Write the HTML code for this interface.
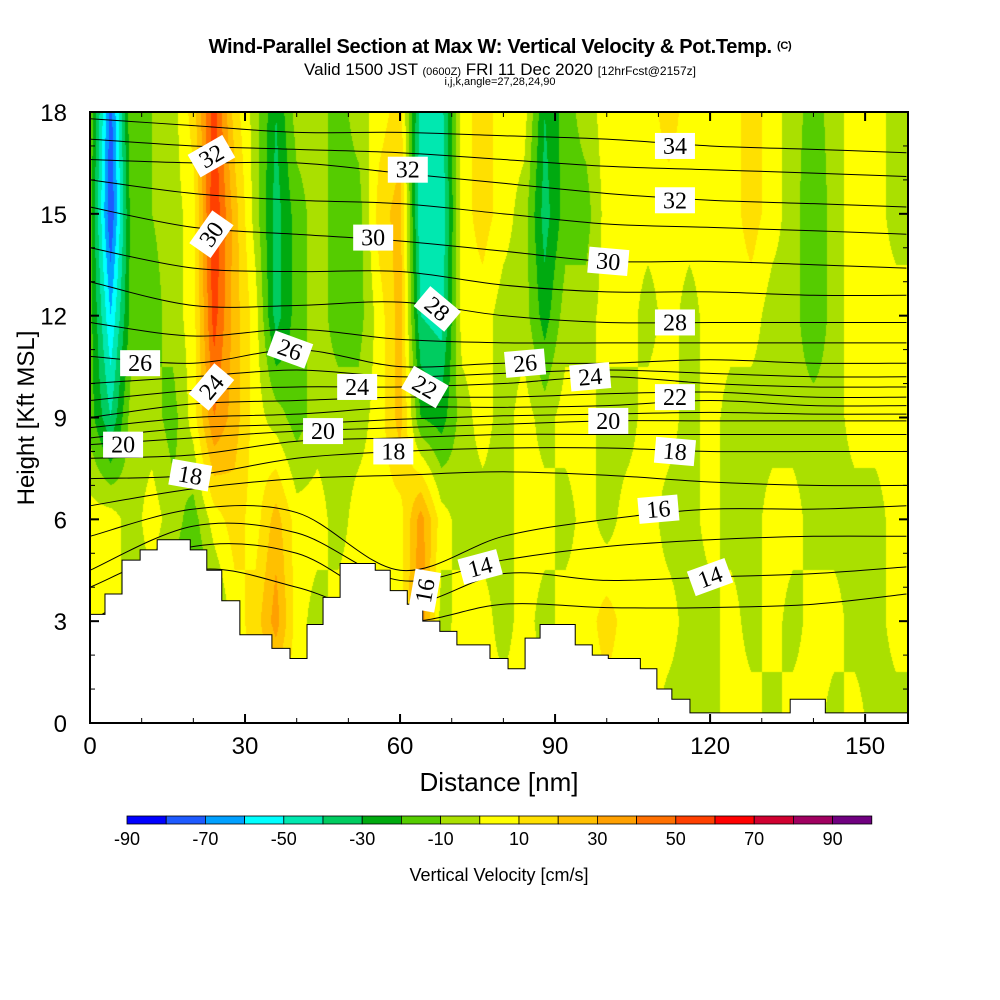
<!DOCTYPE html>
<html><head><meta charset="utf-8">
<style>
html,body{margin:0;padding:0;background:#fff;}
#wrap{position:relative;width:1000px;height:1000px;overflow:hidden;font-family:"Liberation Sans",sans-serif;}
.t{position:absolute;white-space:nowrap;color:#000;}
</style></head>
<body>
<div id="wrap">
<div class="t" style="left:0;width:1000px;text-align:center;top:36px;font-size:20px;font-weight:bold;letter-spacing:-0.3px;">Wind-Parallel Section at Max W: Vertical Velocity &amp; Pot.Temp. <span style="font-size:11px;vertical-align:4px;">(C)</span></div>
<div class="t" style="left:0;width:1000px;text-align:center;top:60px;font-size:17px;">Valid 1500 JST <span style="font-size:11px;">(0600Z)</span> FRI 11 Dec 2020 <span style="font-size:12px;">[12hrFcst@2157z]</span></div>
<div class="t" style="left:0;width:1000px;text-align:center;top:76px;font-size:11px;">i,j,k,angle=27,28,24,90</div>
<canvas id="field" width="818" height="611" style="position:absolute;left:90px;top:112px;"></canvas>
<svg id="svg" width="1000" height="1000" style="position:absolute;left:0;top:0;"></svg>
</div>
<script>
const gridX=[0,4,8,12,16,20,24,28,32,36,40,44,48,52,56,60,64,68,72,76,80,84,88,92,96,100,104,108,112,116,120,124,128,132,136,140,144,148,152,156];
const gridH=[0,3,6,9,12,15,18];
const w0 =[5,5,5,5,5,5,5,5,5,5,5,5,5,5,5,5,5,5,5,5,5,5,5,5,5,5,5,5,-5,-5,-5,5,5,-5,5,5,-5,5,-5,-5];
const w3 =[5,5,-5,-5,-15,-25,-15,5,15,35,5,-5,5,5,5,5,40,-5,5,5,-5,5,-5,5,5,15,5,5,5,-5,-5,5,-5,5,-5,5,5,-5,-5,5];
const w6 =[5,5,-5,5,-5,-15,5,15,5,25,5,5,-5,5,5,5,35,5,-5,-5,-5,5,5,-5,5,-5,5,5,-5,-5,5,-5,-5,5,5,-5,-5,-5,-5,5];
const w9 =[-15,-40,-5,-5,-15,5,40,25,5,-5,-15,-5,-5,-5,5,25,-20,-25,-5,5,-5,5,-5,5,5,-5,-5,5,5,-5,5,-5,-5,-5,-5,-5,-5,5,5,5];
const w12=[-15,-60,-15,-15,-5,5,55,25,5,-35,-15,-5,-15,-15,5,25,-40,-45,5,5,-5,-5,-25,-5,-5,5,5,-5,5,-5,5,5,5,-5,-5,-20,-5,5,5,5];
const w15=[-15,-80,-15,-10,-5,5,60,25,-5,-35,-15,-5,-15,-15,15,25,-50,-50,5,15,5,-5,-35,-15,-15,5,5,5,5,5,5,5,15,5,-5,-20,-5,5,5,-5];
const w18=[-10,-75,-10,-10,-5,15,55,15,-5,-30,-5,-5,-15,-5,5,15,-45,-45,5,15,5,5,-30,-15,-5,5,5,5,15,5,5,5,15,5,-5,-15,-5,5,5,-5];
const wRows=[w0,w3,w6,w9,w12,w15,w18];
const palette=["#0000ff","#1e5aff","#00a0ff","#00ffff","#00e8b0","#00cc60","#00aa10","#55cc00","#aae000","#ffff00","#ffe000","#ffc000","#ffa000","#ff7000","#ff4000","#ff0000","#d00030","#a00060","#700080"];
const cbLabels=["-90","-70","-50","-30","-10","10","30","50","70","90"];
const thetaKnots=[0,20,40,60,80,100,120,140,158];
const thetaLevels=[13,14,15,16,17,18,19,20,21,22,23,24,25,26,27,28,29,30,31,32,33,34];
const t13=[3.0,4.5,4.0,3.0,3.5,3.4,3.4,3.5,3.8];
const t14=[4.0,5.2,5.0,3.5,4.4,4.2,4.3,4.4,4.6];
const t15=[4.5,5.8,5.6,4.2,4.8,5.2,5.4,5.5,5.5];
const t16=[5.5,6.3,6.2,4.5,5.5,6.0,6.3,6.3,6.4];
const t17=[6.4,6.9,7.2,7.3,7.4,7.3,7.1,7.0,7.0];
const t18=[7.2,7.3,7.8,8.0,8.1,8.1,8.0,8.0,8.0];
const t19=[7.8,7.9,8.3,8.4,8.5,8.5,8.5,8.5,8.5];
const t20=[8.2,8.4,8.6,8.7,8.8,8.9,8.9,8.9,8.9];
const t21=[8.4,8.7,8.8,8.95,9.05,9.1,9.15,9.1,9.1];
const t22=[8.7,9.0,9.1,9.3,9.3,9.35,9.5,9.35,9.35];
const t23=[9.0,9.4,9.5,9.6,9.6,9.7,9.75,9.6,9.6];
const t24=[9.5,9.8,9.9,9.9,10.0,10.2,10.0,9.9,9.9];
const t25=[10.0,10.2,10.4,10.2,10.3,10.4,10.3,10.2,10.2];
const t26=[10.8,10.6,11.0,10.5,10.6,10.6,10.7,10.6,10.6];
const t27=[11.8,11.4,11.6,11.3,11.2,11.2,11.2,11.2,11.2];
const t28=[13.0,12.3,12.3,12.4,12.0,11.8,11.8,11.8,11.8];
const t29=[14.0,13.4,13.3,13.3,12.9,12.7,12.7,12.6,12.6];
const t30=[15.2,14.6,14.4,14.2,13.9,13.6,13.6,13.5,13.4];
const t31=[16.0,15.6,15.4,15.3,15.0,14.7,14.6,14.5,14.4];
const t32=[16.6,16.5,16.5,16.2,15.9,15.6,15.4,15.3,15.2];
const t33=[17.2,17.0,16.9,16.8,16.6,16.4,16.3,16.2,16.1];
const t34=[17.8,17.6,17.4,17.4,17.3,17.2,17.0,16.9,16.8];
const thetaRows=[t13,t14,t15,t16,t17,t18,t19,t20,t21,t22,t23,t24,t25,t26,t27,t28,t29,t30,t31,t32,t33,t34];
const terrainEdges=[0,2.9,6.2,9.7,13.0,19.4,22.6,25.5,29.0,35.2,38.7,42.0,45.1,48.4,55.2,58.1,61.4,64.4,67.7,71.0,77.4,80.9,84.2,87.1,93.9,97.2,100.3,106.5,109.7,112.6,116.1,135.5,142.3,158.3];
const terrainHeights=[3.2,3.8,4.8,5.1,5.4,5.1,4.5,3.6,2.6,2.2,1.9,2.9,3.7,4.7,4.5,3.9,3.5,3.0,2.7,2.3,1.9,1.6,2.5,2.9,2.3,2.0,1.9,1.6,1.0,0.7,0.3,0.7,0.3];
const labelText=["32","30","32","30","28","26","26","24","24","22","20","20","18","18","16","14","34","32","30","28","26","24","22","20","18","16","14"];
const labelX=[23.5,23.5,61.5,54.8,67.2,9.7,38.7,23.5,51.7,64.8,6.4,45.1,19.4,58.7,64.8,75.5,113.2,113.2,100.3,113.2,84.2,96.8,113.2,100.3,113.2,110.0,120.0];
const labelH=[16.7,14.4,16.3,14.3,12.2,10.6,11.0,9.9,9.9,9.9,8.2,8.6,7.3,8.0,3.9,4.6,17.0,15.4,13.6,11.8,10.6,10.2,9.6,8.9,8.0,6.3,4.3];
const labelRot=[-30,-55,0,0,40,0,20,-50,0,30,0,0,10,0,-80,-15,0,0,5,0,-5,-5,0,0,5,-5,-20];

const X0=90,X1=908,Y0=723,Y1=112,XMAX=158.3,HMAX=18;
const px=x=>X0+x*(X1-X0)/XMAX;
const py=h=>Y0-h*(Y0-Y1)/HMAX;
const NS="http://www.w3.org/2000/svg";
const svg=document.getElementById('svg');
function mk(tag,attrs,parent){const e=document.createElementNS(NS,tag);for(const k in attrs)e.setAttribute(k,attrs[k]);(parent||svg).appendChild(e);return e;}

(function(){
 const c=document.getElementById('field');const ctx=c.getContext('2d');
 const img=ctx.createImageData(c.width,c.height);
 const rgb=palette.map(p=>[parseInt(p.slice(1,3),16),parseInt(p.slice(3,5),16),parseInt(p.slice(5,7),16)]);
 for(let j=0;j<c.height;j++){
  const h=(Y0-(Y1+j+0.5))*HMAX/(Y0-Y1);
  let r=Math.min(gridH.length-2,Math.max(0,Math.floor(h/3)));
  let fy=Math.min(1,Math.max(0,(h-gridH[r])/(gridH[r+1]-gridH[r])));
  for(let i=0;i<c.width;i++){
   const x=(i+0.5)*XMAX/(X1-X0);
   let ci=Math.min(gridX.length-2,Math.max(0,Math.floor(x/4)));
   let fx=Math.min(1,Math.max(0,(x-gridX[ci])/(gridX[ci+1]-gridX[ci])));
   const a=wRows[r][ci]*(1-fx)+wRows[r][ci+1]*fx;
   const b=wRows[r+1][ci]*(1-fx)+wRows[r+1][ci+1]*fx;
   const v=a*(1-fy)+b*fy;
   let k=Math.floor((v+90)/10);k=Math.max(0,Math.min(18,k));
   const o=(j*c.width+i)*4;img.data[o]=rgb[k][0];img.data[o+1]=rgb[k][1];img.data[o+2]=rgb[k][2];img.data[o+3]=255;
  }
 }
 ctx.putImageData(img,0,0);
})();

const cg=mk('g',{});


thetaRows.forEach((row,li)=>{
 const pts=row.map((h,i)=>[px(thetaKnots[i]),py(h)]);
 let d='M'+pts[0][0]+','+pts[0][1];
 for(let i=0;i<pts.length-1;i++){
  const p0=pts[Math.max(0,i-1)],p1=pts[i],p2=pts[i+1],p3=pts[Math.min(pts.length-1,i+2)];
  const c1=[p1[0]+(p2[0]-p0[0])/6,p1[1]+(p2[1]-p0[1])/6],c2=[p2[0]-(p3[0]-p1[0])/6,p2[1]-(p3[1]-p1[1])/6];
  d+=' C'+c1[0]+','+c1[1]+' '+c2[0]+','+c2[1]+' '+p2[0]+','+p2[1];
 }
 const p=mk('path',{d:d,fill:'none',stroke:'#000','stroke-width':1},cg);
 
 
});

(function(){
 let d='M'+px(0)+','+py(0);
 for(let i=0;i<terrainHeights.length;i++){d+=' L'+px(terrainEdges[i])+','+py(terrainHeights[i])+' L'+px(terrainEdges[i+1])+','+py(terrainHeights[i]);}
 d+=' L'+px(XMAX)+','+py(0)+' Z';
 const t=mk('path',{d:d,fill:'#fff',stroke:'#000','stroke-width':1});
 
 
})();

labelText.forEach((s,i)=>{
 const g=mk('g',{transform:'translate('+px(labelX[i])+','+py(labelH[i])+') rotate('+labelRot[i]+')'});
 
 
 mk('rect',{x:-20,y:-13,width:40,height:26,fill:'#fff'},g);
 const t=mk('text',{x:0,y:8,'text-anchor':'middle','font-family':'Liberation Serif, serif','font-size':24},g);
 t.textContent=s;
});

const frame=mk('rect',{x:X0,y:Y1,width:X1-X0,height:Y0-Y1,fill:'none',stroke:'#000','stroke-width':2});


for(let h=0;h<=18;h++){
 const L=(h%3===0)?9:5;
 mk('line',{x1:X0,y1:py(h),x2:X0+L,y2:py(h),stroke:'#000','stroke-width':h%3===0?2:1});
 mk('line',{x1:X1,y1:py(h),x2:X1-L,y2:py(h),stroke:'#000','stroke-width':h%3===0?2:1});
 if(h%3===0){const t=mk('text',{x:67,y:py(h)+9,'text-anchor':'end','font-size':24,'font-family':'Liberation Sans, sans-serif'});
  
  
  t.textContent=h;}
}
for(let x=0;x<=150;x+=10){
 const L=(x%30===0)?9:5;
 mk('line',{x1:px(x),y1:Y0,x2:px(x),y2:Y0-L,stroke:'#000','stroke-width':x%30===0?2:1});
 mk('line',{x1:px(x),y1:Y1,x2:px(x),y2:Y1+L,stroke:'#000','stroke-width':x%30===0?2:1});
 if(x%30===0){const t=mk('text',{x:px(x),y:754,'text-anchor':'middle','font-size':24,'font-family':'Liberation Sans, sans-serif'});
  
  
  t.textContent=x;}
}
const xt=mk('text',{x:499,y:791,'text-anchor':'middle','font-size':26,'font-family':'Liberation Sans, sans-serif'});


xt.textContent='Distance [nm]';
const yt=mk('text',{x:0,y:0,transform:'translate(34,418) rotate(-90)','text-anchor':'middle','font-size':24,'font-family':'Liberation Sans, sans-serif'});


yt.textContent='Height [Kft MSL]';

const cb=mk('g',{});


const CB0=127,CBW=39.2;
palette.forEach((c,i)=>{
 const r=mk('rect',{x:CB0+i*CBW,y:816,width:CBW,height:8,fill:c,stroke:'#000','stroke-width':0.8},cb);
 
 
});
cbLabels.forEach((s,i)=>{
 const t=mk('text',{x:CB0+i*2*CBW,y:845,'text-anchor':'middle','font-size':18,'font-family':'Liberation Sans, sans-serif'},cb);
 
 
 t.textContent=s;
});
const ct=mk('text',{x:499,y:881,'text-anchor':'middle','font-size':18,'font-family':'Liberation Sans, sans-serif'},cb);


ct.textContent='Vertical Velocity [cm/s]';
</script>
</body></html>
